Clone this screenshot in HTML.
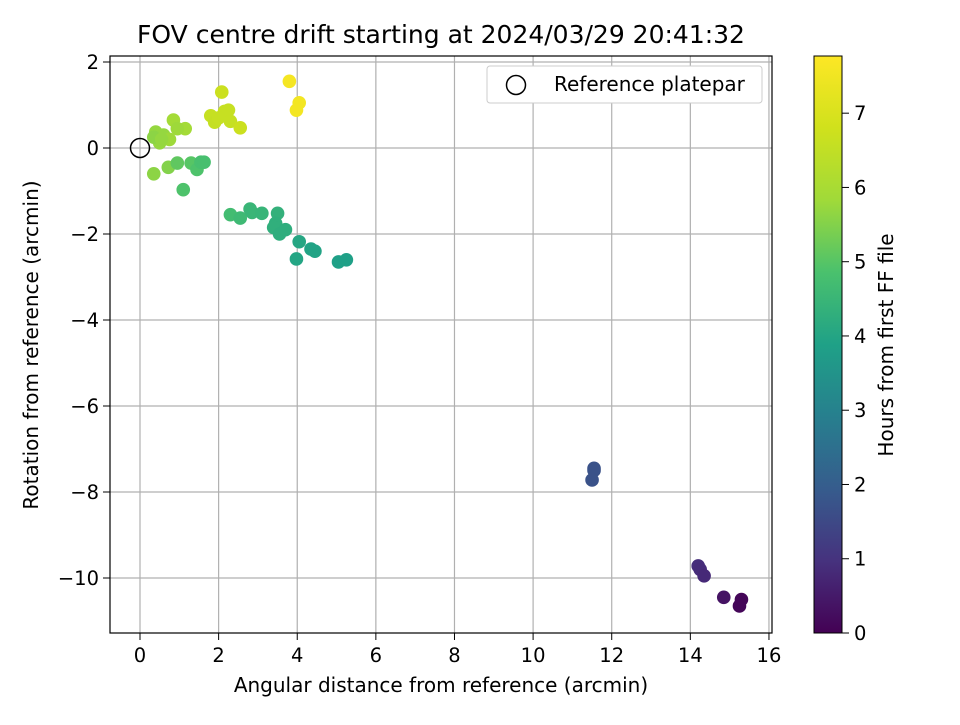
<!DOCTYPE html>
<html><head><meta charset="utf-8"><style>
html,body{margin:0;padding:0;background:#fff;}
svg text{font-family:"DejaVu Sans","Liberation Sans",sans-serif;fill:#000;}
</style></head><body>
<svg id="chart" width="960" height="720" xmlns="http://www.w3.org/2000/svg">
<defs><linearGradient id="vir" x1="0" y1="1" x2="0" y2="0">
<stop offset="0" stop-color="#440154"/><stop offset="0.125" stop-color="#46327e"/><stop offset="0.25" stop-color="#365c8d"/><stop offset="0.375" stop-color="#277f8e"/><stop offset="0.5" stop-color="#1fa187"/><stop offset="0.625" stop-color="#4ac16d"/><stop offset="0.75" stop-color="#a0da39"/><stop offset="0.875" stop-color="#d0e11c"/><stop offset="1" stop-color="#fde725"/>
</linearGradient></defs>
<text x="441" y="43" font-size="25" text-anchor="middle">FOV centre drift starting at 2024/03/29 20:41:32</text>
<g id="grid"></g>
<g id="pts"></g>
<rect x="110" y="56" width="662" height="577" fill="none" stroke="#000" stroke-width="1.2"/>
<g id="ticks"></g>
<text x="441" y="692" font-size="20" text-anchor="middle">Angular distance from reference (arcmin)</text>
<text transform="translate(38,345) rotate(-90)" font-size="20" text-anchor="middle">Rotation from reference (arcmin)</text>
<g>
<rect x="487" y="66" width="275" height="37" rx="3" fill="#fff" stroke="#ccc"/>
<circle cx="516" cy="85" r="9.5" fill="none" stroke="#000" stroke-width="1.5"/>
<text x="554" y="91" font-size="20">Reference platepar</text>
</g>
<rect x="814" y="56" width="28" height="577" fill="url(#vir)" stroke="#000" stroke-width="1"/>
<g id="cbticks"></g>
<text transform="translate(893,345) rotate(-90)" font-size="20" text-anchor="middle">Hours from first FF file</text>
</svg>
<script>
const xs=[3.8,4.05,3.98,2.08,1.8,2.15,2.25,1.9,2.3,2.55,2.0,0.85,0.4,0.6,0.75,0.5,0.35,1.15,0.95,0.55,0.35,0.72,0.95,1.1,1.3,1.45,1.55,1.63,2.3,2.55,2.8,2.85,3.1,3.5,3.45,3.4,3.55,3.7,4.05,3.98,4.35,4.45,5.05,5.25,11.55,11.55,11.5,14.2,14.25,14.35,14.85,15.25,15.3];
const ys=[1.55,1.05,0.88,1.3,0.75,0.85,0.88,0.6,0.62,0.47,0.7,0.65,0.37,0.3,0.2,0.12,0.25,0.45,0.45,0.2,-0.6,-0.45,-0.35,-0.97,-0.35,-0.5,-0.33,-0.33,-1.55,-1.63,-1.42,-1.5,-1.52,-1.52,-1.75,-1.85,-2.0,-1.9,-2.18,-2.58,-2.35,-2.4,-2.65,-2.6,-7.45,-7.5,-7.72,-9.72,-9.8,-9.95,-10.45,-10.65,-10.5];
const hours=[7.6,7.55,7.55,6.7,6.6,6.6,6.6,6.55,6.6,6.7,6.6,5.9,5.7,5.7,5.8,5.7,5.6,5.9,5.8,5.7,5.6,5.5,5.1,4.9,5.0,4.9,4.8,4.8,4.7,4.6,4.5,4.5,4.45,4.35,4.3,4.3,4.25,4.25,4.05,4.0,3.95,3.95,3.85,3.85,1.7,1.7,1.7,0.9,0.85,0.8,0.35,0.1,0.1];
const xTicks=[0,2,4,6,8,10,12,14,16];
const yTicks=[2,0,-2,-4,-6,-8,-10];
const cTicks=[0,1,2,3,4,5,6,7];
const X=v=>140+v*39.31, Y=v=>62+(2-v)*43, C=v=>633-v*(577/7.77);
const stops=[[68,1,84],[70,50,126],[54,92,141],[39,127,142],[31,161,135],[74,193,109],[160,218,57],[208,225,28],[253,231,37]];
function vir(h){let t=Math.max(0,Math.min(1,h/7.77))*8,i=Math.min(7,Math.floor(t)),f=t-i,a=stops[i],b=stops[i+1];
return `rgb(${a.map((c,k)=>Math.round(c+(b[k]-c)*f)).join(',')})`;}
const NS='http://www.w3.org/2000/svg';
function mk(p,tag,at){const e=document.createElementNS(NS,tag);for(const k in at)e.setAttribute(k,at[k]);p.appendChild(e);return e;}
const g=document.getElementById('grid'),tk=document.getElementById('ticks'),pts=document.getElementById('pts'),cb=document.getElementById('cbticks');
xTicks.forEach(v=>{const x=X(v);
const l=mk(g,'line',{x1:x,x2:x,y1:56,y2:633,stroke:'#b0b0b0','stroke-width':1.2});


mk(tk,'line',{x1:x,x2:x,y1:633,y2:640,stroke:'#000'});
const t=mk(tk,'text',{x:x,y:662,'font-size':19.5,'text-anchor':'middle'});t.textContent=String(v).replace('-','\u2212');

});
yTicks.forEach(v=>{const y=Y(v);
const l=mk(g,'line',{x1:110,x2:772,y1:y,y2:y,stroke:'#b0b0b0','stroke-width':1.2});


mk(tk,'line',{x1:103,x2:110,y1:y,y2:y,stroke:'#000'});
const t=mk(tk,'text',{x:99,y:y+7,'font-size':19.5,'text-anchor':'end'});t.textContent=String(v).replace('-','\u2212');

});
xs.forEach((v,i)=>{const c=mk(pts,'circle',{cx:X(v),cy:Y(ys[i]),r:6.8,fill:vir(hours[i])});

});
const ref=mk(pts,'circle',{cx:X(0),cy:Y(0),r:9.5,fill:'none',stroke:'#000','stroke-width':1.5});


cTicks.forEach(v=>{const y=C(v);
mk(cb,'line',{x1:842,x2:849,y1:y,y2:y,stroke:'#000'});
const t=mk(cb,'text',{x:854,y:y+7,'font-size':19.5});t.textContent=v;

});
</script>
</body></html>
